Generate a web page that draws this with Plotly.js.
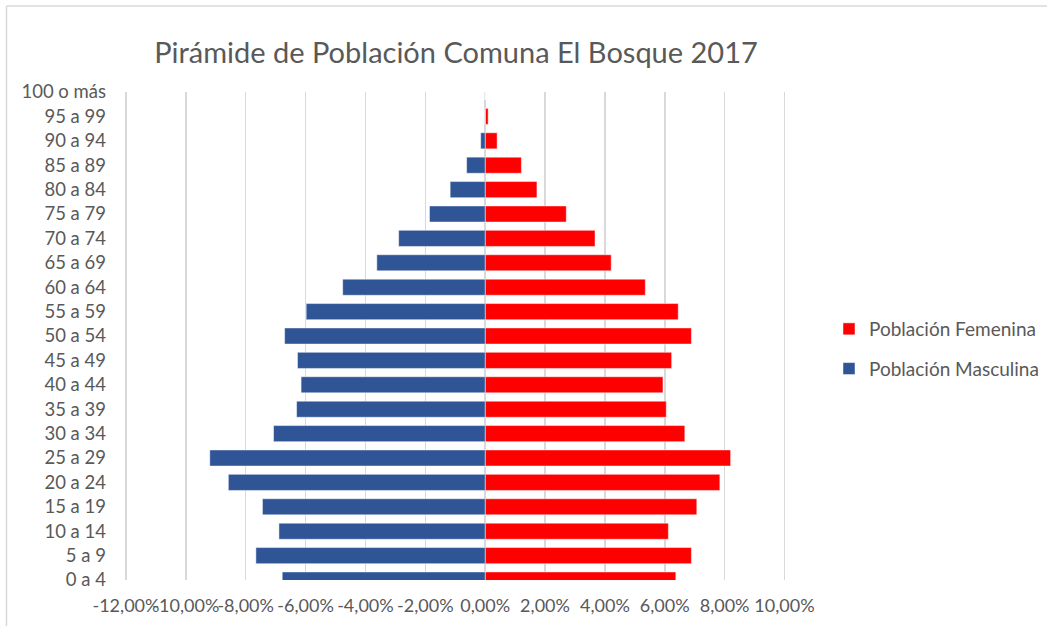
<!DOCTYPE html>
<html>
<head>
<meta charset="utf-8">
<script src="https://cdn.plot.ly/plotly-3.0.1.min.js"></script>
<style>
  html, body { margin: 0; padding: 0; background: #fff; }
  #chart { width: 1047px; height: 626px; }
</style>
</head>
<body>
<div id="chart"></div>
<script>
// Age groups, bottom to top
var ageGroups = ["0 a 4","5 a 9","10 a 14","15 a 19","20 a 24","25 a 29","30 a 34","35 a 39","40 a 44","45 a 49","50 a 54","55 a 59","60 a 64","65 a 69","70 a 74","75 a 79","80 a 84","85 a 89","90 a 94","95 a 99","100 o más"];
// Percent of population (male shown to the left as negative)
var masculina = [-6.78,-7.66,-6.89,-7.44,-8.58,-9.20,-7.07,-6.30,-6.15,-6.27,-6.70,-5.98,-4.76,-3.62,-2.89,-1.86,-1.17,-0.62,-0.15,0,0];
var femenina  = [6.37,6.89,6.12,7.07,7.84,8.20,6.67,6.05,5.94,6.23,6.89,6.45,5.35,4.21,3.67,2.71,1.73,1.21,0.40,0.10,0];
var xTickVals = [-12,-10,-8,-6,-4,-2,0,2,4,6,8,10];
var xTickText = ["-12,00%","-10,00%","-8,00%","-6,00%","-4,00%","-2,00%","0,00%","2,00%","4,00%","6,00%","8,00%","10,00%"];

var FONT = "Lato, 'Open Sans', sans-serif";
var GREY = "#595959";
var GRID = "#d9d9d9";

var data = [
  {
    type: "bar", orientation: "h", name: "Población Femenina",
    y: ageGroups, x: femenina,
    marker: { color: "#FF0000", line: { color: "rgba(255,255,255,0.6)", width: 0.8 } },
    legendgroup: "f", hoverinfo: "y+x"
  },
  {
    type: "bar", orientation: "h", name: "Población Masculina",
    y: ageGroups, x: masculina,
    marker: { color: "#2F5597", line: { color: "rgba(255,255,255,0.6)", width: 0.8 } },
    legendgroup: "m", hoverinfo: "y+x"
  }
];

var layout = {
  width: 1047, height: 626,
  paper_bgcolor: "#fff", plot_bgcolor: "rgba(0,0,0,0)",
  margin: { l: 111, r: 261, t: 92, b: 46, pad: 0, autoexpand: false },
  barmode: "overlay",
  bargap: 0.34,
  font: { family: FONT, color: GREY, size: 18 },
  title: {
    text: "Pirámide de Población Comuna El Bosque 2017",
    font: { family: FONT, size: 29, color: GREY },
    xref: "container", yref: "container",
    x: 456/1047, xanchor: "center",
    y: 1 - 53/626, yanchor: "middle"
  },
  xaxis: {
    range: [-12.5, 10.05],
    tickvals: xTickVals, ticktext: xTickText,
    tickangle: 0,
    showgrid: true, gridcolor: GRID, gridwidth: 1.5,
    zeroline: true, zerolinecolor: GRID, zerolinewidth: 1.5,
    showline: false, ticks: "",
    tickfont: { family: FONT, size: 18, color: GREY },
    ticklabelstandoff: 13,
    fixedrange: true
  },
  yaxis: {
    type: "category",
    categoryorder: "array", categoryarray: ageGroups,
    range: [0, 20],
    showgrid: false, zeroline: false, showline: false, ticks: "",
    tickfont: { family: FONT, size: 18.5, color: GREY },
    ticklabelstandoff: 4,
    fixedrange: true
  },
  legend: {
    xref: "container", yref: "container",
    x: 829/1047, xanchor: "left",
    y: 1 - 349/626, yanchor: "middle",
    font: { family: FONT, size: 19, color: GREY },
    tracegroupgap: 12,
    bgcolor: "rgba(0,0,0,0)"
  },
  shapes: [
    // leftmost gridline, drawn explicitly in case Plotly drops it
    { type: "line", xref: "x", yref: "paper",
      x0: xTickVals[0], x1: xTickVals[0], y0: 0, y1: 1,
      line: { color: GRID, width: 1.5 }, layer: "above" },
    // chart-area border (top and left)
    { type: "line", xref: "paper", yref: "paper",
      x0: -104.5/675, x1: 1.5, y0: 1 + 86/488, y1: 1 + 86/488,
      line: { color: GRID, width: 1.5 }, layer: "below" },
    { type: "line", xref: "paper", yref: "paper",
      x0: -104.5/675, x1: -104.5/675, y0: 1 + 86/488, y1: -0.2,
      line: { color: GRID, width: 1.5 }, layer: "below" }
  ]
};

Plotly.newPlot("chart", data, layout, { displayModeBar: false, staticPlot: true });
</script>
</body>
</html>
